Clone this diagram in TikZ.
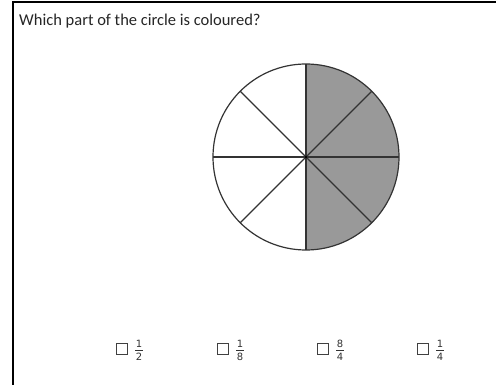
\documentclass[tikz,border=0pt]{standalone}
\usepackage{fontspec}
\setmainfont{Carlito}
\newfontfamily\fracfont{DejaVu Sans}
\begin{document}
\begin{tikzpicture}[x=1pt,y=-1pt,
  spoke/.style={draw=black!80,line width=1.2pt},
  chk/.style={draw=black!75,line width=0.9pt,minimum size=10.5pt,inner sep=0pt},
  digit/.style={font=\fracfont\fontsize{10}{10}\selectfont,text=black!80,inner sep=0pt}]
\useasboundingbox (0,0) rectangle (496,385);
\fill[white] (0,0) rectangle (496,385);
% frame
\draw[line width=2pt,black] (13,385) -- (13,2.5) -- (496,2.5);
\node[anchor=base west,inner sep=0pt,font=\fontsize{16.5}{18}\selectfont,text=black!85] (title) at (19,26) {Which part of the circle is coloured?};
% circle
\coordinate (c) at (306,157);
\fill[black!40] (c) -- ++(0,-93) arc[start angle=-90,end angle=90,radius=93] -- cycle;
\foreach \a in {0,45,...,315}{
  \draw[spoke] (c) -- +({93*cos(\a)},{-93*sin(\a)});
}
\draw[spoke] (c) circle[radius=93];
\fill[black] (c) circle[radius=1.3];
% options
\foreach \x/\n/\d [count=\i] in {122/1/2,223/1/8,323/8/4,423/1/4}{
  \node[chk] (b\i) at (\x,349) {};
  \coordinate (f\i) at (\x+17,350);
  \node[digit,anchor=south] (n\i) at (\x+17,348) {\n};
  \node[digit,anchor=north] (d\i) at (\x+17,353) {\d};
  \draw[black!80,line width=0.8pt] (\x+13.2,350) -- (\x+20.8,350);
}
\end{tikzpicture}
\end{document}
